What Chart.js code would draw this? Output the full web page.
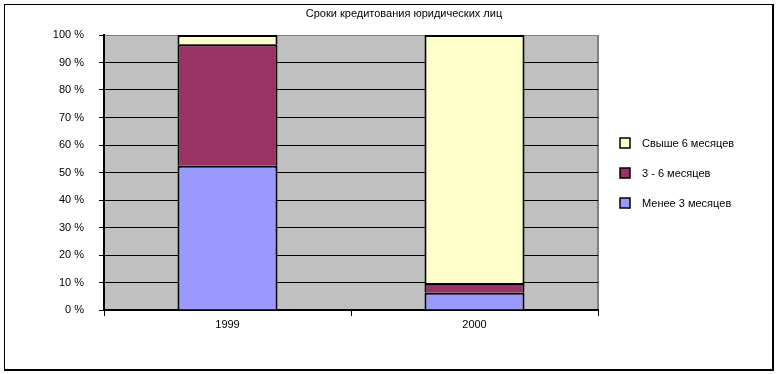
<!DOCTYPE html>
<html lang="ru">
<head>
    <meta charset="UTF-8">
    <title>Сроки кредитования юридических лиц</title>
    <script src="https://cdn.jsdelivr.net/npm/chart.js"></script>
    <style>
        body { margin: 0; background: #fff; }
        #wrap { position: relative; width: 776px; height: 374px; }
        #grafico { position: absolute; left: 0; top: 0; }
        .marco { position: absolute; left: 4px; top: 4px; width: 767px; height: 364px;
                 border-left: 1px solid #000; border-top: 1px solid #000;
                 border-right: 2px solid #000; border-bottom: 2px solid #000; pointer-events: none; }
    </style>
</head>
<body>
    <div id="wrap">
        <canvas id="grafico" width="776" height="374"></canvas>
        <div class="marco"></div>
    </div>

    <script>
        // datos (en %)
        const anos = ['1999', '2000'];
        const menos3 = [52.5, 6.3];
        const de3a6 = [44.1, 3.5];
        const mas6 = [3.4, 90.2];
        const ticksY = [0, 10, 20, 30, 40, 50, 60, 70, 80, 90, 100];

        const fuente = "'Liberation Sans', Arial, sans-serif";

        // fondo gris del área del gráfico
        const fondo = {
            id: 'fondo',
            beforeDraw(chart) {
                const a = chart.chartArea, ctx = chart.ctx;
                ctx.save();
                ctx.fillStyle = '#c0c0c0';
                ctx.fillRect(a.left, a.top, a.right - a.left, a.bottom - a.top);
                ctx.strokeStyle = '#808080';
                ctx.lineWidth = 2;
                ctx.beginPath();
                ctx.moveTo(a.right, a.top);
                ctx.lineTo(a.right, a.bottom);
                ctx.stroke();
                ctx.restore();
            }
        };

        // leyenda a la derecha (orden invertido)
        const leyenda = {
            id: 'leyenda',
            afterDraw(chart) {
                const a = chart.chartArea, ctx = chart.ctx;
                const sets = chart.data.datasets.slice().reverse();
                const cy = (a.top + a.bottom) / 2;
                ctx.save();
                ctx.font = '11px ' + fuente;
                ctx.textBaseline = 'middle';
                sets.forEach((ds, i) => {
                    const y = Math.round(cy + (i - 1) * 30);
                    const x = Math.round(a.right + 22);
                    ctx.fillStyle = ds.backgroundColor;
                    ctx.fillRect(x, y - 5, 10, 10);
                    ctx.strokeStyle = '#000';
                    ctx.lineWidth = 1.5;
                    ctx.strokeRect(x, y - 5, 10, 10);
                    ctx.fillStyle = '#000';
                    ctx.fillText(ds.label, x + 22, y + 1);
                });
                ctx.restore();
            }
        };

        const comun = {
            borderColor: '#000', borderSkipped: false,
            borderWidth: { top: 2, left: 2, right: 2, bottom: 0 },
            categoryPercentage: 1, barPercentage: 0.405
        };

        new Chart(document.getElementById('grafico'), {
            type: 'bar',
            data: {
                labels: anos,
                datasets: [
                    Object.assign({ label: 'Менее 3 месяцев', data: menos3, backgroundColor: '#9999ff' }, comun),
                    Object.assign({ label: '3 - 6 месяцев', data: de3a6, backgroundColor: '#993366' }, comun),
                    Object.assign({ label: 'Свыше 6 месяцев', data: mas6, backgroundColor: '#ffffcc' }, comun)
                ]
            },
            options: {
                responsive: false,
                animation: false,
                layout: { padding: { left: 36, right: 4, top: 0, bottom: 0 } },
                plugins: {
                    legend: { display: false },
                    tooltip: { enabled: false },
                    title: {
                        display: true,
                        text: 'Сроки кредитования юридических лиц',
                        color: '#000',
                        font: { family: fuente, size: 11, weight: 'normal', lineHeight: 1 },
                        padding: { top: 8, bottom: 16 }
                    }
                },
                scales: {
                    x: {
                        stacked: true,
                        grid: { offset: true, drawOnChartArea: false, drawTicks: true, tickLength: 6, color: '#000', lineWidth: 1 },
                        border: { color: '#000', width: 2 },
                        ticks: { color: '#000', font: { family: fuente, size: 11 }, padding: 2, maxRotation: 0 },
                        afterFit(s) { s.height = 64; }
                    },
                    y: {
                        stacked: true,
                        min: 0, max: 100,
                        afterBuildTicks(s) { s.ticks = ticksY.map(v => ({ value: v })); },
                        grid: {
                            color: c => (c.tick && c.tick.value === 100) ? '#808080' : '#000',
                            tickColor: '#000', tickLength: 5, lineWidth: 1
                        },
                        border: { color: '#000', width: 2 },
                        ticks: { color: '#000', font: { family: fuente, size: 11 }, padding: 15, callback: v => v + ' %' },
                        afterFit(s) { s.width = 68; }
                    },
                    hueco: {
                        type: 'linear', position: 'right', display: true,
                        grid: { display: false }, border: { display: false }, ticks: { display: false },
                        afterFit(s) { s.width = 174; }
                    }
                }
            },
            plugins: [fondo, leyenda]
        });
    </script>
</body>
</html>
